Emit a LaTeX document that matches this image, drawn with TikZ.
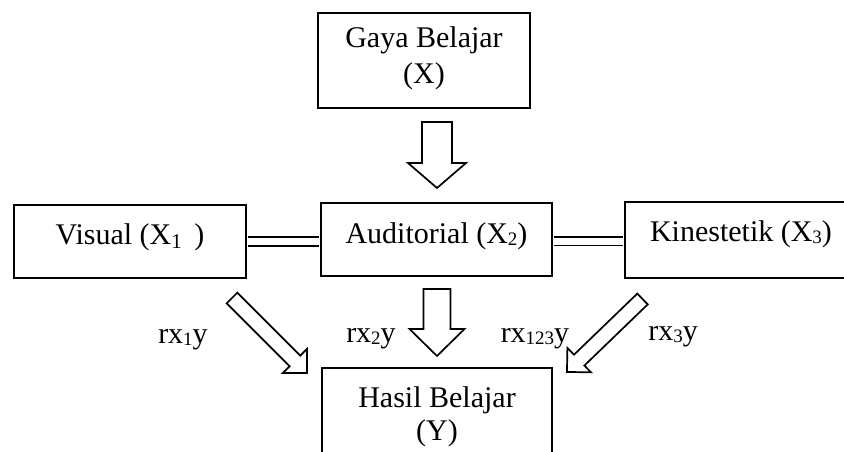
\documentclass[tikz,border=0pt]{standalone}
\usepackage{fontspec}
\setmainfont{Liberation Serif}
\newcommand{\harrow}[7]{%
  \begin{scope}[shift={(#1,#2)}, rotate=#3]
    \draw[hollow] (0,-#5) -- ({#4-#7},-#5) -- ({#4-#7},-#6) -- (#4,0)
      -- ({#4-#7},#6) -- ({#4-#7},#5) -- (0,#5) -- cycle;
  \end{scope}}
\newcommand{\lowsub}[1]{\raisebox{-2.5pt}{\fontsize{19}{19}\selectfont #1}}
\begin{document}
\begin{tikzpicture}[x=1pt,y=-1pt,
  box/.style={draw, line width=1.9pt, inner sep=0pt, align=center,
    font=\fontsize{30}{34}\selectfont},
  lbl/.style={inner sep=0pt, anchor=base, font=\fontsize{30}{34}\selectfont},
  hollow/.style={draw, line width=1.7pt, fill=white, line join=miter},
  bar/.style={double, double distance=7pt, line width=1.9pt,
    shorten <=0.95pt, shorten >=0.95pt}]
\useasboundingbox (0,0) rectangle (844,452);
\clip (0,0) rectangle (844,452);
\fill[white] (0,0) rectangle (844,452);

\node[box, minimum width=212pt, minimum height=95pt, text height=71pt, text depth=24pt,
  font=\fontsize{30}{36}\selectfont] (gaya) at (424,60.5) {Gaya Belajar\\(X)};
\node[box, minimum width=232pt, minimum height=73pt, text height=21pt, text depth=16pt]
  (vis) at (130,241.5) {Visual (X\raisebox{-4pt}{\fontsize{21}{21}\selectfont 1}\ \,)};
\node[box, minimum width=231pt, minimum height=73pt, text height=21pt, text depth=14pt]
  (aud) at (436.5,239.5) {Auditorial (X\lowsub{2})};
\node[box, minimum width=232pt, minimum height=76pt, text height=21pt, text depth=19pt]
  (kin) at (741,240) {Kinestetik (X\lowsub{3})};
\node[box, minimum width=230pt, minimum height=95pt, text height=72pt, text depth=23pt,
  font=\fontsize{30}{33}\selectfont] (hasil) at (437,415.5) {Hasil Belajar\\(Y)};

\draw[bar] (vis.east) -- (vis.east -| aud.west);
\draw[bar] ([yshift=-1.5pt]aud.east) -- ([yshift=-1.5pt]aud.east -| kin.west);

\harrow{437}{122}{-90}{66}{15}{29}{25}
\harrow{437}{289}{-90}{67}{13.5}{27.5}{27}
\harrow{232}{298}{-45}{106}{7.5}{17}{17}
\harrow{642.5}{299}{-136}{105}{7.5}{17}{17}

\node[lbl] (l1) at (183,343) {rx\lowsub{1}y};
\node[lbl] (l2) at (371,342) {rx\lowsub{2}y};
\node[lbl] (l3) at (535,342) {rx\lowsub{123}y};
\node[lbl] (l4) at (673,340) {rx\lowsub{3}y};
\end{tikzpicture}
\end{document}
